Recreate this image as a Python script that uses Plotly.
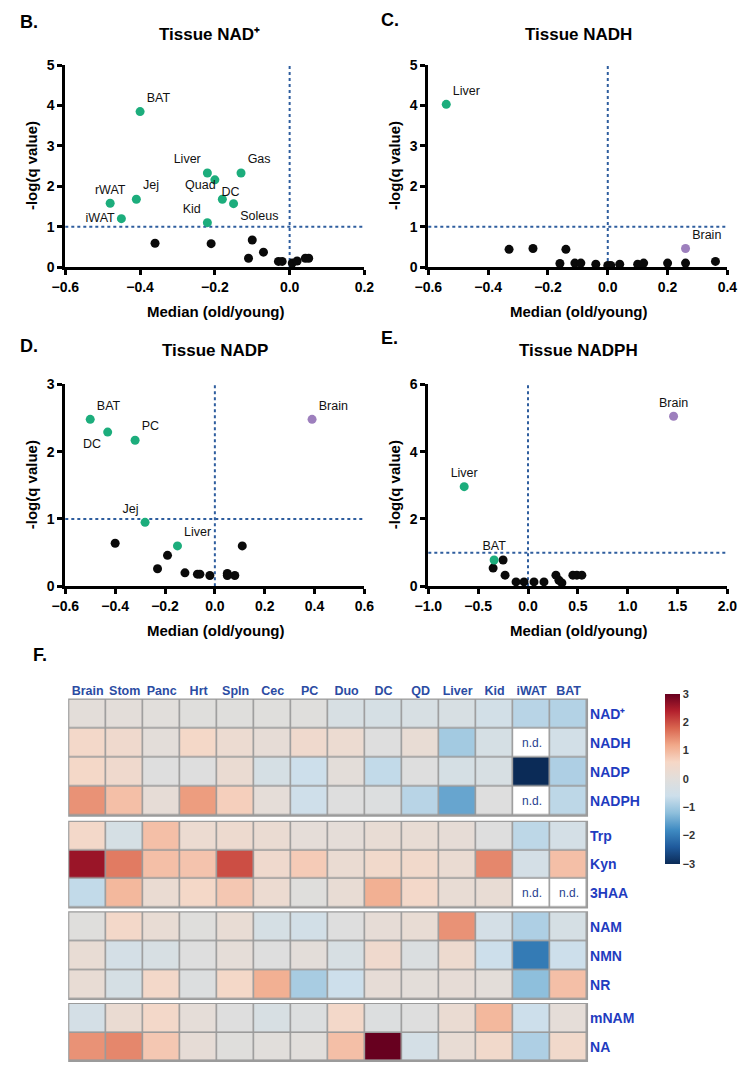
import plotly.graph_objects as go

# ---------------- Scatter data ----------------
# Panel B: Tissue NAD+
b_sig_names = ["BAT", "Liver", "DC", "Gas", "Quad", "Soleus", "Kid", "rWAT", "Jej", "iWAT"]
b_sig_x = [-0.40, -0.22, -0.20, -0.13, -0.18, -0.15, -0.22, -0.48, -0.41, -0.45]
b_sig_y = [3.85, 2.33, 2.16, 2.33, 1.68, 1.57, 1.10, 1.58, 1.68, 1.20]
b_sig_pos = ["top right", "top left", "bottom right", "top right", "top left",
             "bottom right", "top left", "top center", "top right", "middle left"]
b_ns_x = [-0.36, -0.21, -0.10, -0.11, -0.07, -0.03, -0.02, 0.007, 0.02, 0.042, 0.051]
b_ns_y = [0.59, 0.58, 0.67, 0.22, 0.37, 0.14, 0.14, 0.10, 0.15, 0.22, 0.22]

# Panel C: Tissue NADH
c_sig_names = ["Liver"]
c_sig_x = [-0.54]
c_sig_y = [4.03]
c_sig_pos = ["top right"]
c_up_names = ["Brain"]
c_up_x = [0.26]
c_up_y = [0.46]
c_up_pos = ["top right"]
c_ns_x = [-0.33, -0.25, -0.14, -0.16, -0.11, -0.09, -0.04, 0.0, 0.01, 0.04, 0.10, 0.12, 0.20, 0.26, 0.36]
c_ns_y = [0.44, 0.46, 0.44, 0.09, 0.10, 0.10, 0.07, 0.04, 0.04, 0.07, 0.07, 0.10, 0.10, 0.10, 0.14]

# Panel D: Tissue NADP
d_sig_names = ["BAT", "DC", "PC", "Jej", "Liver"]
d_sig_x = [-0.50, -0.43, -0.32, -0.28, -0.15]
d_sig_y = [2.48, 2.29, 2.17, 0.95, 0.60]
d_sig_pos = ["top right", "bottom left", "top right", "top left", "top right"]
d_up_names = ["Brain"]
d_up_x = [0.39]
d_up_y = [2.48]
d_up_pos = ["top right"]
d_ns_x = [-0.40, -0.19, -0.23, -0.12, -0.07, -0.06, -0.02, 0.05, 0.05, 0.08, 0.11]
d_ns_y = [0.64, 0.46, 0.26, 0.20, 0.18, 0.18, 0.16, 0.19, 0.16, 0.16, 0.60]

# Panel E: Tissue NADPH
e_sig_names = ["Liver", "BAT"]
e_sig_x = [-0.64, -0.34]
e_sig_y = [2.96, 0.78]
e_sig_pos = ["top center", "top center"]
e_up_names = ["Brain"]
e_up_x = [1.46]
e_up_y = [5.05]
e_up_pos = ["top center"]
e_ns_x = [-0.25, -0.35, -0.23, -0.12, -0.04, 0.06, 0.16, 0.28, 0.31, 0.34, 0.45, 0.49, 0.54]
e_ns_y = [0.78, 0.54, 0.33, 0.13, 0.13, 0.13, 0.13, 0.33, 0.18, 0.10, 0.33, 0.33, 0.33]

q_threshold = 1.0
zero_ratio = 0.0

# ---------------- Heatmap data ----------------
tissues = ["Brain", "Stom", "Panc", "Hrt", "Spln", "Cec", "PC", "Duo", "DC", "QD", "Liver", "Kid", "iWAT", "BAT"]

g1_rows = ["NAD⁺", "NADH", "NADP", "NADPH"]
g1_vals = [
    [0.05, 0.05, 0.0, -0.05, -0.05, -0.05, -0.05, -0.3, -0.35, -0.3, -0.3, -0.45, -0.8, -0.85],
    [0.5, 0.4, 0.05, 0.55, 0.3, 0.15, 0.4, 0.3, -0.1, 0.2, -1.0, -0.35, None, -0.45],
    [0.55, 0.4, -0.1, -0.1, 0.25, -0.35, -0.6, 0.05, -0.7, -0.1, -0.35, -0.3, -3.0, -0.9],
    [1.4, 0.9, 0.15, 1.3, 0.7, 0.1, -0.55, -0.1, -0.15, -0.8, -1.5, -0.1, None, -0.75],
]
g2_rows = ["Trp", "Kyn", "3HAA"]
g2_vals = [
    [0.5, -0.35, 0.9, 0.3, 0.35, 0.25, 0.1, 0.1, 0.2, 0.2, 0.15, -0.1, -0.75, -0.4],
    [2.6, 1.6, 0.9, 0.85, 2.0, 0.4, 0.75, 0.25, 0.45, 0.45, 0.25, 1.5, -0.4, 0.9],
    [-0.7, 1.0, 0.25, 0.55, 0.8, 0.3, -0.05, 0.2, 1.1, 0.5, 0.2, 0.2, None, None],
]
g3_rows = ["NAM", "NMN", "NR"]
g3_vals = [
    [-0.05, 0.5, 0.2, -0.05, 0.2, -0.35, -0.45, -0.1, 0.15, 0.2, 1.4, -0.4, -0.9, -0.35],
    [0.2, -0.4, -0.3, -0.1, 0.1, -0.1, 0.05, -0.3, 0.4, -0.2, 0.35, -0.6, -2.0, -0.6],
    [0.2, -0.35, 0.5, -0.15, 0.55, 1.1, -0.95, -0.6, 0.15, 0.05, 0.15, 0.05, -1.2, 0.9],
]
g4_rows = ["mNAM", "NA"]
g4_vals = [
    [-0.4, 0.25, 0.5, 0.1, -0.1, -0.3, -0.15, 0.5, -0.15, -0.1, 0.25, 1.0, -0.6, 0.1],
    [1.4, 1.5, 0.8, 0.15, -0.05, 0.0, 0.0, 0.9, 3.0, -0.4, 0.2, 0.45, -0.9, 0.45],
]

colorbar_ticks = [3, 2, 1, 0, -1, -2, -3]

# ---------------- Styling ----------------
W, H = 750, 1077
FONT = "Arial, Liberation Sans, sans-serif"
GREEN = "#1cad7c"
PURPLE = "#9d7fbd"
BLACK = "#0a0a0a"
REF = "#2e5d9e"
HM_LABEL = "#2b4ca3"
ROW_LABEL = "#1f3cbf"
GRID = "#9b9b9b"

colorscale = [
    [0.0, "#0b2b57"], [0.1, "#1f5a9c"], [0.2, "#3f8bc2"], [0.3, "#8ebfdc"],
    [0.4, "#cddfeb"], [0.5, "#e1dedb"], [0.6, "#f6d7c6"], [0.7, "#f1a889"],
    [0.8, "#d9654f"], [0.9, "#b3202d"], [1.0, "#67001f"],
]


def px_x(p):
    return p / W


def px_y(p):
    return 1 - p / H


fig = go.Figure()

panels = [
    dict(ax="", sig=(b_sig_x, b_sig_y, b_sig_names, b_sig_pos), up=None, ns=(b_ns_x, b_ns_y),
         xr=[-0.6, 0.2], xt=[-0.6, -0.4, -0.2, 0.0, 0.2], yr=[0, 5], yt=[0, 1, 2, 3, 4, 5],
         dom_x=(53, 362), dom_y=(58, 263)),
    dict(ax="2", sig=(c_sig_x, c_sig_y, c_sig_names, c_sig_pos), up=(c_up_x, c_up_y, c_up_names, c_up_pos),
         ns=(c_ns_x, c_ns_y), xr=[-0.6, 0.4], xt=[-0.6, -0.4, -0.2, 0.0, 0.2, 0.4], yr=[0, 5],
         yt=[0, 1, 2, 3, 4, 5], dom_x=(428, 737), dom_y=(58, 263)),
    dict(ax="3", sig=(d_sig_x, d_sig_y, d_sig_names, d_sig_pos), up=(d_up_x, d_up_y, d_up_names, d_up_pos),
         ns=(d_ns_x, d_ns_y), xr=[-0.6, 0.6], xt=[-0.6, -0.4, -0.2, 0.0, 0.2, 0.4, 0.6], yr=[0, 3],
         yt=[0, 1, 2, 3], dom_x=(53, 362), dom_y=(382, 587)),
    dict(ax="4", sig=(e_sig_x, e_sig_y, e_sig_names, e_sig_pos), up=(e_up_x, e_up_y, e_up_names, e_up_pos),
         ns=(e_ns_x, e_ns_y), xr=[-1.0, 2.0], xt=[-1.0, -0.5, 0.0, 0.5, 1.0, 1.5, 2.0], yr=[0, 6],
         yt=[0, 2, 4, 6], dom_x=(428, 737), dom_y=(382, 587)),
]

layout_axes = {}
shapes = []
for p in panels:
    xa = "x" + p["ax"]
    ya = "y" + p["ax"]
    nsx, nsy = p["ns"]
    fig.add_trace(go.Scatter(x=nsx, y=nsy, mode="markers", xaxis=xa, yaxis=ya,
                             marker=dict(size=9, color=BLACK), cliponaxis=False, showlegend=False))
    sx, sy, sn, sp = p["sig"]
    fig.add_trace(go.Scatter(x=sx, y=sy, mode="markers+text", text=sn, textposition=sp,
                             xaxis=xa, yaxis=ya, cliponaxis=False, showlegend=False,
                             marker=dict(size=9, color=GREEN),
                             textfont=dict(family=FONT, size=12.5, color="#111")))
    if p["up"]:
        ux, uy, un, up = p["up"]
        fig.add_trace(go.Scatter(x=ux, y=uy, mode="markers+text", text=un, textposition=up,
                                 xaxis=xa, yaxis=ya, cliponaxis=False, showlegend=False,
                                 marker=dict(size=9, color=PURPLE),
                                 textfont=dict(family=FONT, size=12.5, color="#111")))
    layout_axes["xaxis" + p["ax"]] = dict(
        domain=[px_x(p["dom_x"][0]), px_x(p["dom_x"][1])], range=p["xr"], tickvals=p["xt"],
        tickformat=".1f", anchor=ya, showgrid=False, zeroline=False, showline=True,
        linecolor="black", linewidth=2.8, ticks="outside", ticklen=5, tickwidth=2.8,
        tickcolor="black", tickfont=dict(family=FONT, size=14, color="black", weight="bold"))
    layout_axes["yaxis" + p["ax"]] = dict(
        domain=[px_y(p["dom_y"][1]), px_y(p["dom_y"][0])], range=p["yr"], tickvals=p["yt"],
        anchor=xa, showgrid=False, zeroline=False, showline=True,
        linecolor="black", linewidth=2.8, ticks="outside", ticklen=5, tickwidth=2.8,
        tickcolor="black", tickfont=dict(family=FONT, size=14, color="black", weight="bold"))
    shapes.append(dict(type="line", xref=xa + " domain", yref=ya, x0=0, x1=1,
                       y0=q_threshold, y1=q_threshold, line=dict(color=REF, width=2, dash="dot"),
                       layer="below"))
    shapes.append(dict(type="line", xref=xa, yref=ya + " domain", x0=zero_ratio, x1=zero_ratio,
                       y0=0, y1=1, line=dict(color=REF, width=2, dash="dot"), layer="below"))

# ---------------- Heatmaps ----------------
groups = [
    ("5", g1_rows, g1_vals, (702, 820)),
    ("6", g2_rows, g2_vals, (826, 913)),
    ("7", g3_rows, g3_vals, (918, 1006)),
    ("8", g4_rows, g4_vals, (1011, 1069)),
]
hm_dom_x = [px_x(57), px_x(592)]
ann = []
for ax, rows, vals, (top, bot) in groups:
    ya = "y" + ax
    fig.add_trace(go.Heatmap(z=vals, x=tissues, y=rows, xaxis="x5", yaxis=ya, coloraxis="coloraxis",
                             xgap=1.6, ygap=1.6, hoverongaps=False))
    nd_z = [[1 if v is None else None for v in r] for r in vals]
    if any(v == 1 for r in nd_z for v in r):
        fig.add_trace(go.Heatmap(z=nd_z, x=tissues, y=rows, xaxis="x5", yaxis=ya,
                                 colorscale=[[0, "white"], [1, "white"]], showscale=False,
                                 xgap=1.6, ygap=1.6, hoverongaps=False))
        for ri, r in enumerate(vals):
            for ci, v in enumerate(r):
                if v is None:
                    ann.append(dict(x=tissues[ci], y=rows[ri], xref="x5", yref=ya, text="n.d.",
                                    showarrow=False,
                                    font=dict(family=FONT, size=12, color="#2a3f8f")))
    layout_axes["yaxis" + ax] = dict(
        domain=[px_y(bot), px_y(top)], anchor="x5", side="right", autorange="reversed",
        showgrid=False, zeroline=False, ticks="", ticklabelstandoff=2,
        tickfont=dict(family=FONT, size=14, color=ROW_LABEL, weight="bold"))
    shapes.append(dict(type="rect", xref="x5 domain", yref=ya + " domain", x0=0, x1=1, y0=0, y1=1,
                       fillcolor=GRID, line=dict(color=GRID, width=2), layer="below"))

layout_axes["xaxis5"] = dict(domain=hm_dom_x, anchor="y5", side="top", showgrid=False, zeroline=False,
                             ticks="", ticklabelstandoff=1,
                             tickfont=dict(family=FONT, size=12.5, color=HM_LABEL, weight="bold"))


# ---------------- Annotations ----------------
def add_text(x, y, text, size, xanchor="center", angle=0, bold=True, color="black"):
    ann.append(dict(x=px_x(x), y=px_y(y), xref="paper", yref="paper", text=text, showarrow=False,
                    xanchor=xanchor, yanchor="middle", textangle=angle,
                    font=dict(family=FONT, size=size, color=color, weight="bold" if bold else "normal")))


add_text(4, 14, "B.", 18, xanchor="left")
add_text(377, 12, "C.", 18, xanchor="left")
add_text(4, 343, "D.", 18, xanchor="left")
add_text(377, 335, "E.", 18, xanchor="left")
add_text(18, 657, "F.", 18, xanchor="left")

add_text(202, 27, "Tissue NAD⁺", 17)
add_text(583, 27, "Tissue NADH", 17)
add_text(208, 348, "Tissue NADP", 17)
add_text(583, 348, "Tissue NADPH", 17)

for cx, cy in [(208, 308), (583, 308), (208, 632), (583, 632)]:
    add_text(cx, cy, "Median (old/young)", 15)
for cx, cy in [(18, 160), (393, 160), (18, 484), (393, 484)]:
    add_text(cx, cy, "-log(q value)", 15, angle=-90)

fig.update_layout(
    width=W, height=H, margin=dict(l=0, r=0, t=0, b=0),
    paper_bgcolor="white", plot_bgcolor="white", showlegend=False,
    font=dict(family=FONT),
    coloraxis=dict(colorscale=colorscale, cmin=-3, cmax=3,
                   colorbar=dict(x=px_x(662), xanchor="left", y=px_y(782.5), yanchor="middle",
                                 len=193 / H, lenmode="fraction", thickness=15, outlinewidth=0,
                                 tickvals=colorbar_ticks, ticks="",
                                 tickfont=dict(family=FONT, size=11, color="#333", weight="bold"))),
    shapes=shapes, annotations=ann, **layout_axes,
)

fig.write_html("out.html")
